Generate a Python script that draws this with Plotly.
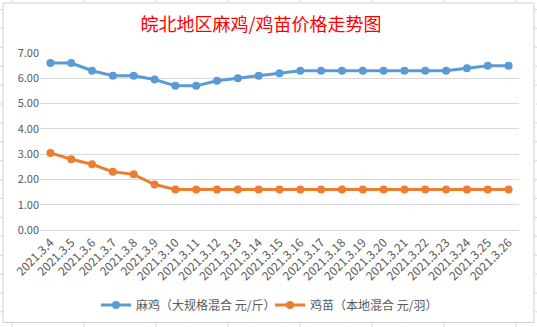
import plotly.graph_objects as go

dates = ["2021.3.4", "2021.3.5", "2021.3.6", "2021.3.7", "2021.3.8", "2021.3.9",
         "2021.3.10", "2021.3.11", "2021.3.12", "2021.3.13", "2021.3.14", "2021.3.15",
         "2021.3.16", "2021.3.17", "2021.3.18", "2021.3.19", "2021.3.20", "2021.3.21",
         "2021.3.22", "2021.3.23", "2021.3.24", "2021.3.25", "2021.3.26"]
maji = [6.6, 6.6, 6.3, 6.1, 6.1, 5.95, 5.7, 5.7, 5.9, 6.0, 6.1, 6.2,
        6.3, 6.3, 6.3, 6.3, 6.3, 6.3, 6.3, 6.3, 6.4, 6.5, 6.5]
jimiao = [3.05, 2.8, 2.6, 2.3, 2.2, 1.8, 1.6, 1.6, 1.6, 1.6, 1.6, 1.6,
          1.6, 1.6, 1.6, 1.6, 1.6, 1.6, 1.6, 1.6, 1.6, 1.6, 1.6]
name_maji = "麻鸡（大规格混合 元/斤）"
name_jimiao = "鸡苗（本地混合 元/羽）"
title_text = "皖北地区麻鸡/鸡苗价格走势图"

W, H = 537, 327
L, R, T, B = 40, 18, 53, 97
PW, PH = W - L - R, H - T - B


def px(x):
    return (x - L) / PW


def py(y):
    return (H - B - y) / PH


FONT = "Noto Sans CJK SC, Microsoft YaHei, sans-serif"
GRAY = "#595959"

fig = go.Figure()
fig.add_trace(go.Scatter(x=list(range(len(dates))), y=maji, name=name_maji,
                         mode="lines+markers", legend="legend",
                         line=dict(color="#5B9BD5", width=3),
                         marker=dict(color="#5B9BD5", size=8)))
fig.add_trace(go.Scatter(x=list(range(len(dates))), y=jimiao, name=name_jimiao,
                         mode="lines+markers", legend="legend2",
                         line=dict(color="#ED7D31", width=3),
                         marker=dict(color="#ED7D31", size=8)))

shapes = []
# spreadsheet grid behind the chart
for k in range(8):
    xx = 12 + 72 * k
    shapes.append(dict(type="line", xref="paper", yref="paper", layer="below",
                       x0=px(xx), x1=px(xx), y0=py(0), y1=py(H),
                       line=dict(color="#d6d6dc", width=1)))
for k in range(17):
    yy = 9.5 + 18.9 * k
    shapes.append(dict(type="line", xref="paper", yref="paper", layer="below",
                       x0=px(0), x1=px(W), y0=py(yy), y1=py(yy),
                       line=dict(color="#d6d6dc", width=1)))
# chart box
shapes.append(dict(type="rect", xref="paper", yref="paper", layer="below",
                   x0=px(3), x1=px(534), y0=py(322.5), y1=py(3),
                   fillcolor="white", line=dict(color="#cfcfd6", width=1)))

legend_common = dict(orientation="h", yanchor="middle", xanchor="left",
                     font=dict(family=FONT, size=12, color=GRAY),
                     itemwidth=30, bgcolor="rgba(0,0,0,0)")

fig.update_layout(
    width=W, height=H,
    margin=dict(l=L, r=R, t=T, b=B, autoexpand=False),
    paper_bgcolor="white",
    plot_bgcolor="rgba(0,0,0,0)",
    shapes=shapes,
    title=dict(text=title_text, x=261 / W, xanchor="center",
               y=1 - 25 / H, yanchor="middle", yref="container",
               font=dict(family=FONT, size=18, color="#FF0000")),
    font=dict(family=FONT, color=GRAY),
    showlegend=True,
    legend=dict(x=px(96), y=py(305), **legend_common),
    legend2=dict(x=px(270), y=py(305), **legend_common),
    xaxis=dict(range=[-0.5, len(dates) - 0.5], tickmode="array",
               tickvals=list(range(len(dates))), ticktext=dates,
               tickangle=-45, showgrid=False, zeroline=False,
               showline=True, linecolor="#d9d9d9", linewidth=1,
               ticks="", tickfont=dict(family=FONT, size=12, color=GRAY),
               automargin=False),
    yaxis=dict(range=[0, 7], dtick=1, tick0=0, tickformat=".2f",
               showgrid=True, gridcolor="#d9d9d9", gridwidth=1,
               zeroline=False, showline=False, ticks="",
               tickfont=dict(family=FONT, size=11, color=GRAY),
               automargin=False),
)

fig.write_html("out.html")
